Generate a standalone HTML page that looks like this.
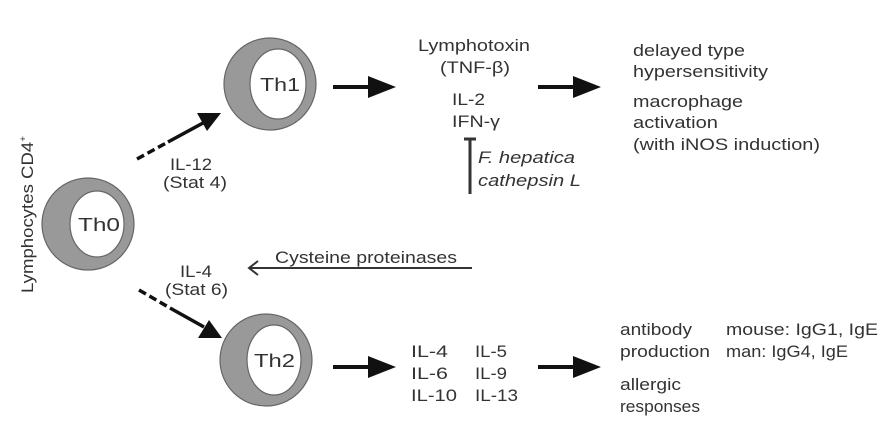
<!DOCTYPE html>
<html><head><style>
body{margin:0;background:#fff}
svg{display:block}
text{font-family:"Liberation Sans",sans-serif;font-size:17px;fill:#333}
</style></head><body>
<svg width="893" height="429" viewBox="0 0 893 429" xmlns="http://www.w3.org/2000/svg">
<g stroke="#666" stroke-width="1.2">
<circle cx="88" cy="224" r="46" fill="#999"/>
<ellipse cx="97" cy="224" rx="27" ry="33" fill="#fff"/>
<circle cx="270" cy="84" r="46" fill="#999"/>
<ellipse cx="278" cy="84" rx="28" ry="35" fill="#fff"/>
<circle cx="266" cy="360" r="46" fill="#999"/>
<ellipse cx="274" cy="360" rx="27" ry="35" fill="#fff"/>
</g>
<text x="78" y="231" textLength="42" lengthAdjust="spacingAndGlyphs" style="font-size:18px">Th0</text>
<text x="260" y="91" textLength="40" lengthAdjust="spacingAndGlyphs" style="font-size:18px">Th1</text>
<text x="254" y="367" textLength="41" lengthAdjust="spacingAndGlyphs" style="font-size:18px">Th2</text>
<text transform="translate(33,293) rotate(-90)" textLength="157" lengthAdjust="spacingAndGlyphs">Lymphocytes CD4<tspan dy="-7" style="font-size:9px">+</tspan></text>
<g stroke="#111" stroke-width="3.5" fill="none">
<line x1="137" y1="159" x2="168" y2="142" stroke-dasharray="8,4"/>
<line x1="168" y1="142" x2="203" y2="123"/>
<line x1="139" y1="290" x2="170" y2="308" stroke-dasharray="8,4"/>
<line x1="170" y1="308" x2="204" y2="327"/>
</g>
<polygon points="221,113 197,113 207,131" fill="#111"/>
<polygon points="222,338 198,338 209,320" fill="#111"/>
<text x="170" y="170" textLength="42" lengthAdjust="spacingAndGlyphs">IL-12</text>
<text x="163" y="188" textLength="64" lengthAdjust="spacingAndGlyphs">(Stat 4)</text>
<text x="180" y="277" textLength="32" lengthAdjust="spacingAndGlyphs">IL-4</text>
<text x="165" y="295" textLength="63" lengthAdjust="spacingAndGlyphs">(Stat 6)</text>
<g fill="#111">
<rect x="333" y="85" width="40" height="4"/><polygon points="396,87 368,76 368,98"/>
<rect x="538" y="85" width="40" height="4"/><polygon points="601,87 573,76 573,98"/>
<rect x="333" y="365" width="40" height="4"/><polygon points="396,367 368,356 368,378"/>
<rect x="538" y="365" width="40" height="4"/><polygon points="601,367 573,356 573,378"/>
</g>
<text x="418" y="51" textLength="112" lengthAdjust="spacingAndGlyphs">Lymphotoxin</text>
<text x="440" y="73" textLength="70" lengthAdjust="spacingAndGlyphs">(TNF-β)</text>
<text x="452" y="105" textLength="33" lengthAdjust="spacingAndGlyphs">IL-2</text>
<text x="452" y="127" textLength="48" lengthAdjust="spacingAndGlyphs">IFN-γ</text>
<g stroke="#333" stroke-width="3"><line x1="470" y1="138" x2="470" y2="194"/><line x1="464" y1="139" x2="476" y2="139"/></g>
<text x="478" y="163" textLength="97" lengthAdjust="spacingAndGlyphs" style="font-style:italic">F. hepatica</text>
<text x="478" y="186" textLength="103" lengthAdjust="spacingAndGlyphs" style="font-style:italic">cathepsin L</text>
<text x="633" y="56" textLength="112" lengthAdjust="spacingAndGlyphs">delayed type</text>
<text x="633" y="77" textLength="135" lengthAdjust="spacingAndGlyphs">hypersensitivity</text>
<text x="633" y="107" textLength="110" lengthAdjust="spacingAndGlyphs">macrophage</text>
<text x="633" y="128" textLength="85" lengthAdjust="spacingAndGlyphs">activation</text>
<text x="633" y="150" textLength="187" lengthAdjust="spacingAndGlyphs">(with iNOS induction)</text>
<text x="275" y="263" textLength="182" lengthAdjust="spacingAndGlyphs">Cysteine proteinases</text>
<line x1="250" y1="268" x2="472" y2="268" stroke="#333" stroke-width="2"/>
<polyline points="258,261 249,268 258,275" fill="none" stroke="#333" stroke-width="2"/>
<text x="411" y="357" textLength="37" lengthAdjust="spacingAndGlyphs">IL-4</text><text x="475" y="357" textLength="32" lengthAdjust="spacingAndGlyphs">IL-5</text>
<text x="411" y="379" textLength="37" lengthAdjust="spacingAndGlyphs">IL-6</text><text x="475" y="379" textLength="32" lengthAdjust="spacingAndGlyphs">IL-9</text>
<text x="411" y="401" textLength="46" lengthAdjust="spacingAndGlyphs">IL-10</text><text x="475" y="401" textLength="43" lengthAdjust="spacingAndGlyphs">IL-13</text>
<text x="620" y="335" textLength="72" lengthAdjust="spacingAndGlyphs">antibody</text>
<text x="620" y="357" textLength="90" lengthAdjust="spacingAndGlyphs">production</text>
<text x="726" y="335" textLength="152" lengthAdjust="spacingAndGlyphs">mouse: IgG1, IgE</text>
<text x="726" y="357" textLength="122" lengthAdjust="spacingAndGlyphs">man: IgG4, IgE</text>
<text x="620" y="390" textLength="61" lengthAdjust="spacingAndGlyphs">allergic</text>
<text x="620" y="412" textLength="80" lengthAdjust="spacingAndGlyphs">responses</text>
</svg>
</body></html>
